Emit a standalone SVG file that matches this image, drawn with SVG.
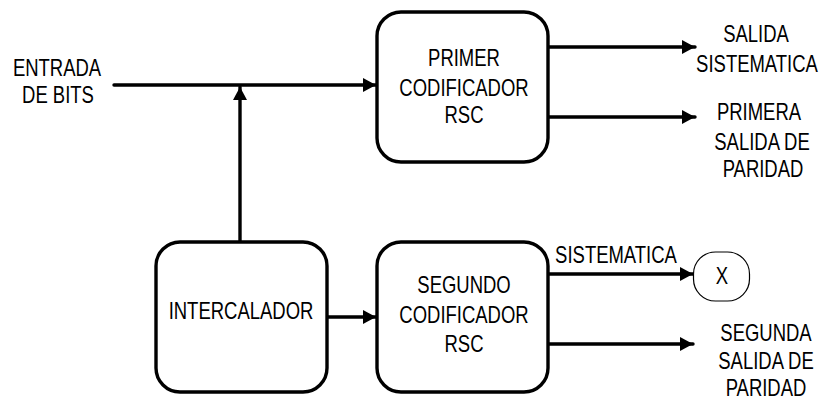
<svg xmlns="http://www.w3.org/2000/svg" width="821" height="398" viewBox="0 0 821 398">
  <style>
    .box { fill: #ffffff; stroke: #000000; stroke-width: 3.4; }
    .pill { fill: #ffffff; stroke: #000000; stroke-width: 1.2; }
    .wire { fill: none; stroke: #000000; stroke-width: 3.4; stroke-linecap: round; }
    .lbl { font-family: "Liberation Sans", Arial, sans-serif; font-size: 24px; fill: #000000; text-anchor: middle; }
  </style>
  <defs>
    <marker id="arrow" markerUnits="userSpaceOnUse" markerWidth="16" markerHeight="16" refX="13" refY="8" orient="auto">
      <path d="M0,1 L13,8 L0,15 Z" fill="#000000"/>
    </marker>
  </defs>

  <rect width="821" height="398" fill="#ffffff"/>

  <g id="connectors">
    <line class="wire" x1="114" y1="85" x2="376" y2="85" marker-end="url(#arrow)"/>
    <line class="wire" x1="240" y1="242" x2="240" y2="87" marker-end="url(#arrow)"/>
    <line class="wire" x1="327" y1="317" x2="376" y2="317" marker-end="url(#arrow)"/>
    <line class="wire" x1="548" y1="47" x2="695" y2="47" marker-end="url(#arrow)"/>
    <line class="wire" x1="548" y1="117" x2="695" y2="117" marker-end="url(#arrow)"/>
    <line class="wire" x1="548" y1="274" x2="693" y2="274" marker-end="url(#arrow)"/>
    <line class="wire" x1="548" y1="344" x2="693" y2="344" marker-end="url(#arrow)"/>
  </g>

  <g id="entrada">
    <text class="lbl" transform="translate(57,76) scale(0.77,1)">ENTRADA</text>
    <text class="lbl" transform="translate(58,103) scale(0.77,1)">DE BITS</text>
  </g>

  <g id="primer-codificador">
    <rect class="box" x="377" y="12" width="171" height="150" rx="24"/>
    <text class="lbl" transform="translate(464,66) scale(0.77,1)">PRIMER</text>
    <text class="lbl" transform="translate(464,96) scale(0.77,1)">CODIFICADOR</text>
    <text class="lbl" transform="translate(464,123) scale(0.77,1)">RSC</text>
  </g>

  <g id="intercalador">
    <rect class="box" x="156" y="242" width="171" height="150" rx="24"/>
    <text class="lbl" transform="translate(241,319) scale(0.77,1)">INTERCALADOR</text>
  </g>

  <g id="segundo-codificador">
    <rect class="box" x="377" y="242" width="171" height="150" rx="24"/>
    <text class="lbl" transform="translate(464,293) scale(0.77,1)">SEGUNDO</text>
    <text class="lbl" transform="translate(464,323) scale(0.77,1)">CODIFICADOR</text>
    <text class="lbl" transform="translate(464,352) scale(0.77,1)">RSC</text>
  </g>

  <g id="salida-sistematica">
    <text class="lbl" transform="translate(756,42) scale(0.77,1)">SALIDA</text>
    <text class="lbl" transform="translate(757,72) scale(0.77,1)">SISTEMATICA</text>
  </g>

  <g id="primera-salida-paridad">
    <text class="lbl" transform="translate(759,120) scale(0.77,1)">PRIMERA</text>
    <text class="lbl" transform="translate(762,150) scale(0.77,1)">SALIDA DE</text>
    <text class="lbl" transform="translate(763,177) scale(0.77,1)">PARIDAD</text>
  </g>

  <g id="sistematica-label">
    <text class="lbl" transform="translate(616,263) scale(0.77,1)">SISTEMATICA</text>
  </g>

  <g id="descarte-x">
    <rect class="pill" x="693.5" y="252" width="56" height="49" rx="22"/>
    <text class="lbl" transform="translate(722,284) scale(0.77,1)">X</text>
  </g>

  <g id="segunda-salida-paridad">
    <text class="lbl" transform="translate(766,341) scale(0.77,1)">SEGUNDA</text>
    <text class="lbl" transform="translate(766,369) scale(0.77,1)">SALIDA DE</text>
    <text class="lbl" transform="translate(766,396) scale(0.77,1)">PARIDAD</text>
  </g>
</svg>
